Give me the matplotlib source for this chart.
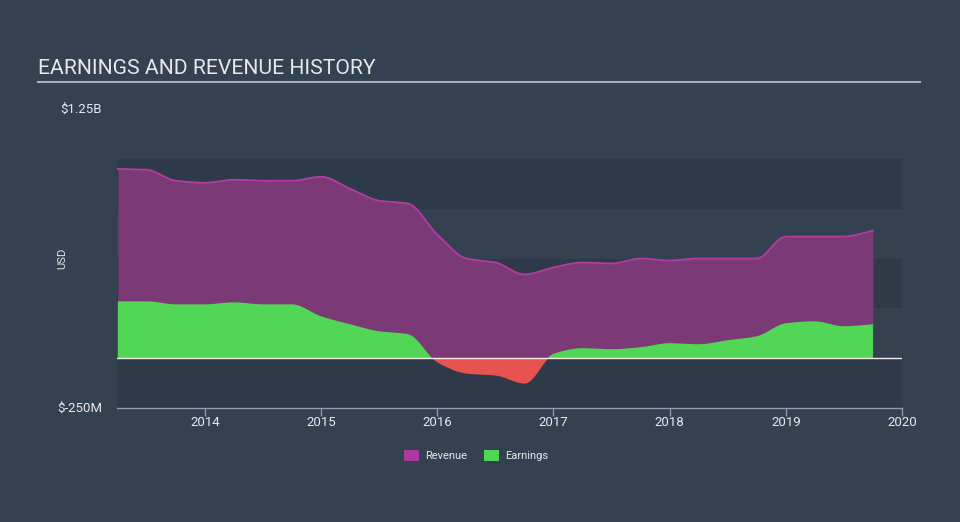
import matplotlib
matplotlib.use("Agg")
import matplotlib.pyplot as plt
from matplotlib.patches import Rectangle
import numpy as np

plt.rcParams['font.family'] = ['Roboto', 'DejaVu Sans']

# quarterly periods (decimal years) and values in $B
periods = [2013.25, 2013.5, 2013.75, 2014.0, 2014.25, 2014.5, 2014.75,
           2015.0, 2015.25, 2015.5, 2015.75, 2016.0, 2016.25, 2016.5, 2016.75,
           2017.0, 2017.25, 2017.5, 2017.75, 2018.0, 2018.25, 2018.5, 2018.75,
           2019.0, 2019.25, 2019.5, 2019.75]
revenue = [0.95, 0.945, 0.89, 0.88, 0.895, 0.89, 0.89,
           0.91, 0.85, 0.79, 0.775, 0.62, 0.50, 0.48, 0.42,
           0.455, 0.48, 0.475, 0.50, 0.49, 0.50, 0.50, 0.50,
           0.61, 0.61, 0.61, 0.64]
earnings = [0.285, 0.285, 0.27, 0.27, 0.28, 0.27, 0.27,
            0.21, 0.17, 0.135, 0.12, -0.02, -0.075, -0.085, -0.125,
            0.022, 0.05, 0.045, 0.055, 0.075, 0.07, 0.09, 0.11,
            0.175, 0.185, 0.16, 0.17]
year_ticks = [2014, 2015, 2016, 2017, 2018, 2019, 2020]

BG = '#344151'
BAND = '#2e3a49'
REV_FILL = '#7b3a75'
REV_LINE = '#b43ca4'
EARN = '#52d655'
LOSS = '#e9534f'
TXT = '#e6e8ea'


def smooth(x, y, n=12):
    # monotone cubic curve through the points, for drawing only
    x = np.asarray(x, float)
    y = np.asarray(y, float)
    h = np.diff(x)
    d = np.diff(y) / h
    m = np.zeros_like(y)
    m[0], m[-1] = d[0], d[-1]
    for i in range(1, len(y) - 1):
        if d[i - 1] * d[i] > 0:
            m[i] = 2 / (1 / d[i - 1] + 1 / d[i])
    xs, ys = [], []
    for i in range(len(h)):
        t = np.linspace(0, 1, n, endpoint=False)
        h00 = 2*t**3 - 3*t**2 + 1
        h10 = t**3 - 2*t**2 + t
        h01 = -2*t**3 + 3*t**2
        h11 = t**3 - t**2
        xs.append(x[i] + t * h[i])
        ys.append(h00*y[i] + h10*h[i]*m[i] + h01*y[i+1] + h11*h[i]*m[i+1])
    xs.append([x[-1]])
    ys.append([y[-1]])
    return np.concatenate(xs), np.concatenate(ys)


fig = plt.figure(figsize=(9.6, 5.22), dpi=100, facecolor=BG)
ax = fig.add_axes([117/960, 1-408/522, (902-117)/960, (408-109)/522])
ax.set_facecolor(BG)

xmin, xmax = 2013.243, 2020.0
ax.set_xlim(xmin, xmax)
ax.set_ylim(-0.25, 1.25)

for lo in [-0.25, 0.25, 0.75]:
    ax.add_patch(Rectangle((xmin, lo), xmax - xmin, 0.25, facecolor=BAND,
                           edgecolor='none', zorder=0))

rx, ry = smooth(periods, revenue)
ex, ey = smooth(periods, earnings)

ax.fill_between(rx, 0, ry, color=REV_FILL, lw=0, zorder=2)
ax.plot(rx, ry, color=REV_LINE, lw=1.3, zorder=3)
ax.fill_between(ex, 0, ey, where=ey >= 0, interpolate=True, color=EARN, lw=0, zorder=4)
ax.fill_between(ex, 0, ey, where=ey <= 0, interpolate=True, color=LOSS, lw=0, zorder=4)
ax.axhline(0, color='#f4eaea', lw=1, zorder=5)

for s in ['top', 'right', 'left']:
    ax.spines[s].set_visible(False)
ax.spines['bottom'].set_color('#8d9cae')
ax.spines['bottom'].set_linewidth(1)

ax.set_xticks(year_ticks)
ax.set_xticklabels([str(y) for y in year_ticks])
ax.tick_params(axis='x', colors='#8d9cae', length=6, width=1, labelcolor=TXT,
               labelsize=9.5, pad=0)
ax.set_yticks([])

fig.text(60/960, 1-109/522, '$1.25B', color=TXT, fontsize=9.5, va='center', ha='left')
fig.text(57/960, 1-408/522, '$-250M', color=TXT, fontsize=9.5, va='center', ha='left')
fig.text(62/960, 1-258/522, 'USD', color=TXT, fontsize=8, va='center', ha='center',
         rotation=90)

fig.text(38/960, 1-69/522, 'EARNINGS AND REVENUE HISTORY', color=TXT, fontsize=15.2,
         va='center', ha='left')
fig.add_artist(plt.Line2D([38/960, 920/960], [1-81.5/522, 1-81.5/522],
                          color='#a7afb8', lw=1.5))

# legend
for x0, col, label in [(404, '#ae3aa0', 'Revenue'), (484, EARN, 'Earnings')]:
    fig.add_artist(Rectangle((x0/960, 1-461/522), 15/960, 11/522,
                             facecolor=col, edgecolor='none'))
    fig.text((x0+21)/960, 1-456/522, label, color=TXT, fontsize=8,
             va='center', ha='left')

fig.savefig('out.png', dpi=100, facecolor=BG)
